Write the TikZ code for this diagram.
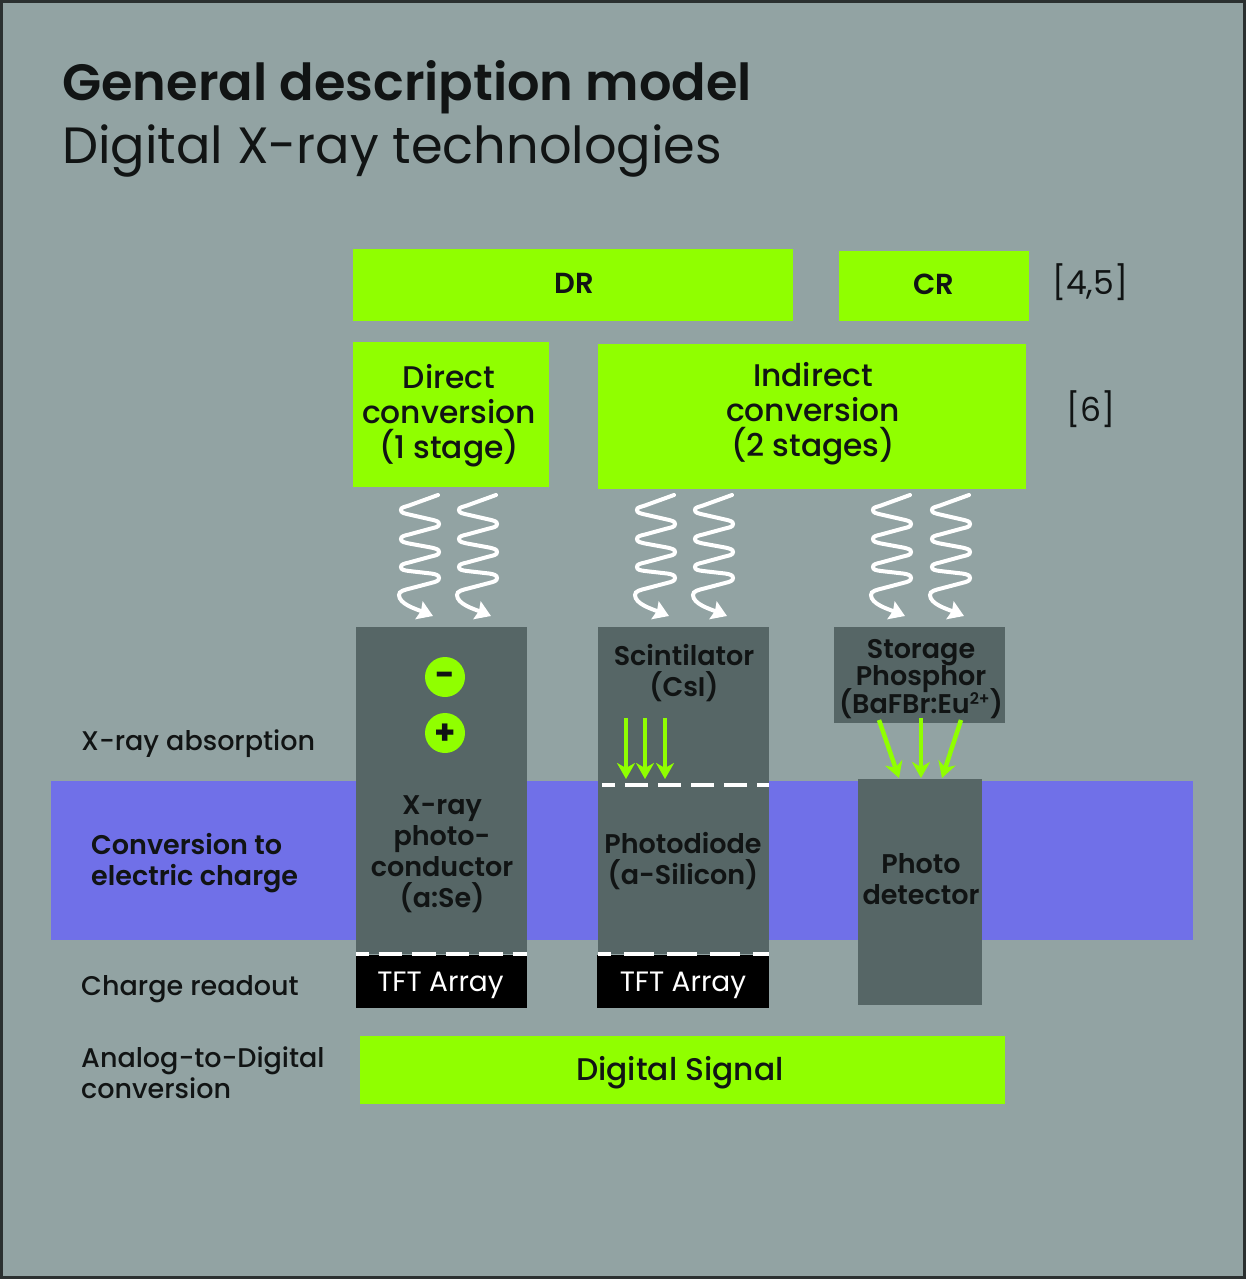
\documentclass[tikz,border=0pt]{standalone}
\usepackage{fontspec}
\setmainfont{Poppins}
\newfontfamily\popmed{Poppins Medium}
\newfontfamily\popsemi{Poppins SemiBold}
\usetikzlibrary{arrows.meta}
\definecolor{bgc}{HTML}{92A3A3}
\definecolor{edgec}{HTML}{2B3030}
\definecolor{limec}{HTML}{90FF00}
\definecolor{darkc}{HTML}{566666}
\definecolor{bandc}{HTML}{7070E8}
\definecolor{inkc}{HTML}{111414}
\newcommand{\fs}[2]{\fontsize{#1}{#2}\selectfont}
\tikzset{
  x=1pt,y=-1pt,
  lbl/.style={anchor=base west,inner sep=0pt,text=inkc,align=left},
  boxnode/.style={anchor=north west,inner sep=0pt,outer sep=0pt},
  limebox/.style={boxnode,fill=limec},
  darkbox/.style={boxnode,fill=darkc},
  blackbox/.style={boxnode,fill=black},
  limetxt/.style={inner sep=0pt,text=inkc,align=center,font=\popmed\fs{31.3}{35}},
  captxt/.style={inner sep=0pt,text=inkc,align=center,font=\popsemi\fs{27}{31}},
  tfttxt/.style={inner sep=0pt,text=white,align=center,font=\fs{28}{31}},
  rowtxt/.style={lbl,font=\popmed\fs{27}{31}},
  charge/.style={circle,fill=limec,minimum size=40pt,inner sep=0pt,font=\bfseries\fs{34}{34},text=inkc},
  glow/.style={draw=limec,line width=4.5pt,-{Stealth[length=16pt,width=18pt,inset=5pt]}},
  dashline/.style={draw=white,line width=4pt},
  wave/.pic={
    \draw[white,line width=4pt,line cap=round,-{Stealth[length=15pt,width=19pt,inset=2pt]}]
      (38,0) -- (9,10.5) .. controls (4,12.2) and (1,12.2) .. (1,15)
      .. controls (1,17.8) and (4,18.3) .. (9,19.5) -- (31,24.5)
      .. controls (36,25.7) and (39,26.2) .. (39,29)
      .. controls (39,31.8) and (36,32.3) .. (31,33.5) -- (9,39.5)
      .. controls (4,40.7) and (1,41.2) .. (1,44)
      .. controls (1,46.8) and (4,47.3) .. (9,48.5) -- (31,52.5)
      .. controls (36,53.7) and (39,54.2) .. (39,57)
      .. controls (39,59.8) and (36,60.3) .. (31,61.5) -- (9,67.5)
      .. controls (4,68.7) and (1,69.2) .. (1,72)
      .. controls (1,74.8) and (4,75.3) .. (9,76) -- (31,78.5)
      .. controls (36,79.2) and (39,80.2) .. (39,83)
      .. controls (39,85.8) and (36,86.8) .. (31,88) -- (12,93)
      .. controls (4,95) and (-1,96) .. (-1,100)
      .. controls (-1,109) and (16,114) .. (33,121);
  }
}
\begin{document}
\begin{tikzpicture}
\useasboundingbox (0,0) rectangle (1246,1279);
\fill[edgec] (0,0) rectangle (1246,1279);
\fill[bgc] (3,3) rectangle (1243,1276);
% band
\fill[bandc] (51,781) rectangle (1193,940);
% title
\node[lbl,font=\popsemi\fs{51}{60}] (title) at (62,101) {General description model};
\node[lbl,font=\fs{51}{60}] (subtitle) at (62,163) {Digital X-ray technologies};
% top boxes
\node[limebox,minimum width=440pt,minimum height=72pt] (dr) at (353,249) {};
\node[limetxt,font=\popsemi\fs{29}{35}] (drt) at (574,283) {DR};
\node[limebox,minimum width=190pt,minimum height=70pt] (cr) at (839,251) {};
\node[limetxt,font=\popsemi\fs{29}{35}] (crt) at (934,284) {CR};
\node[limebox,minimum width=196pt,minimum height=145pt] (direct) at (353,342) {};
\node[limetxt] (directt) at (449,415.5) {Direct\\conversion\\(1 stage)};
\node[limebox,minimum width=428pt,minimum height=145pt] (indirect) at (598,344) {};
\node[limetxt] (indirectt) at (813,413.5) {Indirect\\conversion\\(2 stages)};
\node[lbl,font=\fs{33}{40}] (refa) at (1052,294) {[4,5]};
\node[lbl,font=\fs{33}{40}] (refb) at (1066,421) {[6]};
% columns
\node[darkbox,minimum width=171pt,minimum height=327pt] (colA) at (356,627) {};
\node[darkbox,minimum width=171pt,minimum height=327pt] (colB) at (598,627) {};
\node[blackbox,minimum width=171pt,minimum height=53pt] (tftA) at (356,955) {};
\node[tfttxt] (tftAt) at (440.5,985.5) {TFT Array};
\node[blackbox,minimum width=172pt,minimum height=53pt] (tftB) at (597,955) {};
\node[tfttxt] (tftBt) at (683,985.5) {TFT Array};
\node[darkbox,minimum width=171pt,minimum height=96pt] (storage) at (834,627) {};
\node[captxt,font=\popsemi\fs{27}{27.5}] (storaget) at (921,679) {Storage\\Phosphor\\[-5.5pt](BaFBr:Eu\smash{\raisebox{9pt}{\fs{16}{16}2+}})};
\node[darkbox,minimum width=124pt,minimum height=226pt] (photo) at (858,779) {};
\node[limebox,minimum width=645pt,minimum height=68pt] (digital) at (360,1036) {};
\node[limetxt] (digitalt) at (680,1073) {Digital Signal};
% captions in columns
\node[captxt] (xp) at (442,854.5) {X-ray\\photo-\\conductor\\(a:Se)};
\node[captxt] (sc) at (684,673) {Scintilator\\(CsI)};
\node[captxt] (pd) at (683,861) {Photodiode\\(a-Silicon)};
\node[captxt] (pt) at (921,879) {Photo\\detector};
% charges
\node[charge] (minus) at (445,677) {\raisebox{-9pt}[0pt][0pt]{-}};
\node[charge] (plus) at (445,733) {\raisebox{-11pt}[0pt][0pt]{+}};
% dash lines
\draw[dashline,dash pattern=on 23.5pt off 10pt,dash phase=11pt] (colA.south west) -- (colA.south east);
\draw[dashline,dash pattern=on 23pt off 10pt,dash phase=10pt] (602,785) coordinate (dbs) -- (769,785) coordinate (dbe);
\draw[dashline,dash pattern=on 30pt off 13pt,dash phase=17pt] (colB.south west) -- (colB.south east);
% scintillator arrows
\coordinate (s1a) at (626,718); \coordinate (s1b) at (626,779);
\coordinate (s2a) at (645,718); \coordinate (s2b) at (645,779);
\coordinate (s3a) at (665,718); \coordinate (s3b) at (665,779);
\draw[glow] (s1a) -- (s1b);
\draw[glow] (s2a) -- (s2b);
\draw[glow] (s3a) -- (s3b);
% storage arrows
\coordinate (p1a) at (879,720); \coordinate (p1b) at (899,778);
\coordinate (p2a) at (921,718); \coordinate (p2b) at (921,778);
\coordinate (p3a) at (961,720); \coordinate (p3b) at (942,778);
\draw[glow] (p1a) -- (p1b);
\draw[glow] (p2a) -- (p2b);
\draw[glow] (p3a) -- (p3b);
% waves
\foreach \wx in {400,458,636,694,872,931} \pic at (\wx,495) {wave};
% row labels
\node[rowtxt] (l1) at (81,750) {X-ray absorption};
\node[lbl,font=\popsemi\fs{27}{31}] (l2) at (91,885.5) {Conversion to\\electric charge};
\node[rowtxt] (l3) at (81,995) {Charge readout};
\node[rowtxt] (l4) at (81,1098) {Analog-to-Digital\\conversion};
\end{tikzpicture}
\end{document}
